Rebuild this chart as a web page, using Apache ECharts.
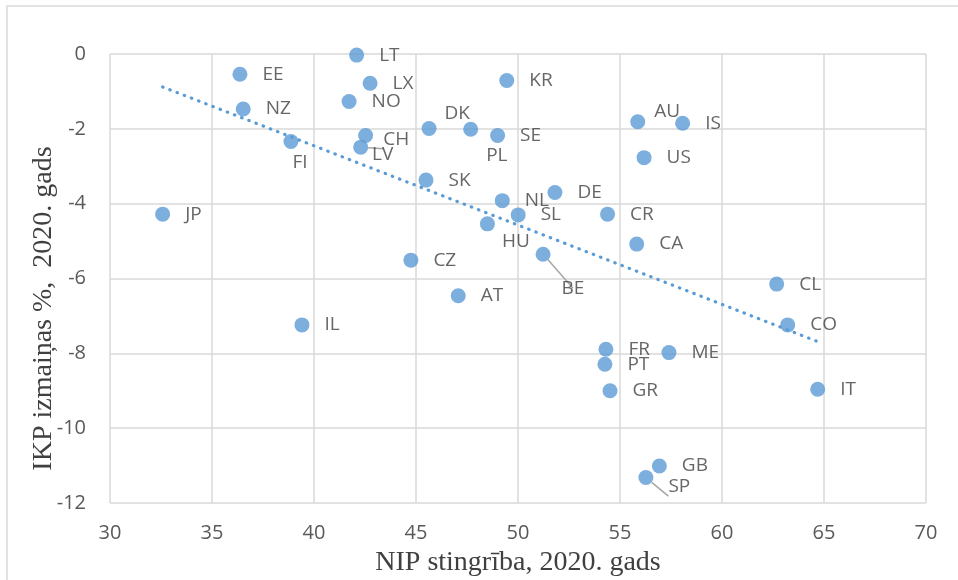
<!DOCTYPE html>
<html>
<head>
<meta charset="utf-8">
<script src="https://cdn.jsdelivr.net/npm/echarts@6.0.0/dist/echarts.min.js"></script>
<style>
  html, body { margin: 0; padding: 0; background: #fff; }
  #main { width: 958px; height: 580px; }
</style>
</head>
<body>
<div id="main"></div>
<script>
// valstis
const countries = ['LT', 'LX', 'NO', 'DK', 'PL', 'SE', 'KR', 'LV', 'CH', 'NL',
                   'SL', 'HU', 'DE', 'CR', 'BE', 'AT', 'FR', 'PT', 'GR', 'ME',
                   'GB', 'SP', 'CL', 'CO', 'IT', 'AU', 'IS', 'US', 'CA', 'EE',
                   'NZ', 'FI', 'JP', 'IL', 'SK', 'CZ'];
// NIP stingriba, 2020
const stringency = [42.09, 42.75, 41.72, 45.64, 47.68, 49.0, 49.45, 42.53, 42.29, 49.23,
                    50.01, 48.5, 51.81, 54.39, 51.23, 47.07, 54.31, 54.26, 54.51, 57.4,
                    56.93, 56.27, 62.68, 63.22, 64.69, 55.87, 58.07, 56.18, 55.82, 36.37,
                    36.53, 38.87, 32.58, 39.41, 45.49, 44.75];
// IKP izmainas %, 2020
const gdpChange = [-0.03, -0.78, -1.27, -1.99, -2.01, -2.18, -0.71, -2.18, -2.49, -3.92,
                   -4.3, -4.54, -3.7, -4.28, -5.35, -6.46, -7.89, -8.29, -9.0, -7.98,
                   -11.01, -11.32, -6.15, -7.24, -8.96, -1.81, -1.85, -2.77, -5.08, -0.54,
                   -1.47, -2.34, -4.28, -7.24, -3.37, -5.51];
const xTicks = [30, 35, 40, 45, 50, 55, 60, 65, 70];
const yTicks = [-12, -10, -8, -6, -4, -2, 0];

// label nudges (px) for the ones excel moved by hand
const labelShift = {
    DK: [-7, -15], PL: [-7, 26], HU: [-8, 18], BE: [-4, 34], SP: [0, 9],
    AU: [-6, -10], FI: [-21, 21], CH: [0, -8], LV: [-16, 19]
};
const withLeader = ['CH', 'BE', 'SP'];

// linear trend (least squares)
function trend(xs, ys) {
    let n = xs.length, mx = 0, my = 0;
    for (let i = 0; i < n; i++) { mx += xs[i]; my += ys[i]; }
    mx /= n; my /= n;
    let sxy = 0, sxx = 0;
    for (let i = 0; i < n; i++) {
        sxy += (xs[i] - mx) * (ys[i] - my);
        sxx += (xs[i] - mx) * (xs[i] - mx);
    }
    const b = sxy / sxx;
    const a = my - b * mx;
    const x0 = Math.min.apply(null, xs), x1 = Math.max.apply(null, xs);
    return [[x0, a + b * x0], [x1, a + b * x1]];
}

const points = countries.map((c, i) => {
    let item = { name: c, value: [stringency[i], gdpChange[i]] };
    if (labelShift[c]) item.label = { offset: labelShift[c] };
    if (withLeader.indexOf(c) >= 0) item.labelLine = { show: true };
    return item;
});

const chart = echarts.init(document.getElementById('main'));
const gridColor = '#d9d9d9';

chart.setOption({
    animation: false,
    backgroundColor: '#fff',
    graphic: [{
        type: 'rect',
        shape: { x: 7, y: 6, width: 1100, height: 1100 },
        style: { fill: 'none', stroke: gridColor, lineWidth: 1.5 },
        silent: true
    }],
    grid: { left: 110, right: 32, top: 54, bottom: 77, containLabel: false, outerBoundsMode: 'none' },
    xAxis: {
        type: 'value',
        min: xTicks[0], max: xTicks[xTicks.length - 1], interval: 5,
        name: 'NIP stingrība, 2020. gads',
        nameLocation: 'middle',
        nameGap: 46,
        nameMoveOverlap: false,
        nameTextStyle: { fontFamily: 'Liberation Serif', fontSize: 28, color: '#404040' },
        axisLine: { show: false, onZero: false },
        axisTick: { show: false },
        axisLabel: { margin: 20, fontFamily: 'Open Sans', fontSize: 20, color: '#595959' },
        splitLine: { show: true, showMinLine: true, showMaxLine: true, lineStyle: { color: gridColor, width: 1.5 } }
    },
    yAxis: {
        type: 'value',
        min: yTicks[0], max: yTicks[yTicks.length - 1], interval: 2,
        name: 'IKP izmaiņas %,  2020. gads',
        nameLocation: 'middle',
        nameGap: 52,
        nameMoveOverlap: false,
        nameTextStyle: {
            fontFamily: 'Liberation Serif', fontSize: 28, color: '#404040',
            padding: [0, 60, 0, 0]
        },
        axisLine: { show: false, onZero: false },
        axisTick: { show: false },
        axisLabel: { margin: 24, fontFamily: 'Open Sans', fontSize: 20, color: '#595959' },
        splitLine: { show: true, showMinLine: true, showMaxLine: true, lineStyle: { color: gridColor, width: 1.5 } }
    },
    series: [
        {
            type: 'scatter',
            data: points,
            symbolSize: 15,
            itemStyle: { color: '#5B9BD5' },
            label: {
                show: true,
                position: 'right',
                distance: 15,
                formatter: '{b}',
                fontFamily: 'Open Sans',
                fontSize: 19,
                color: '#404040'
            },
            labelLine: { show: false, lineStyle: { color: '#a6a6a6', width: 1.5 } },
            z: 2
        },
        {
            type: 'line',
            data: trend(stringency, gdpChange),
            symbol: 'none',
            silent: true,
            lineStyle: { color: '#5B9BD5', width: 3.2, type: [0.5, 7.2], cap: 'round' },
            z: 3
        }
    ]
});
</script>
</body>
</html>
